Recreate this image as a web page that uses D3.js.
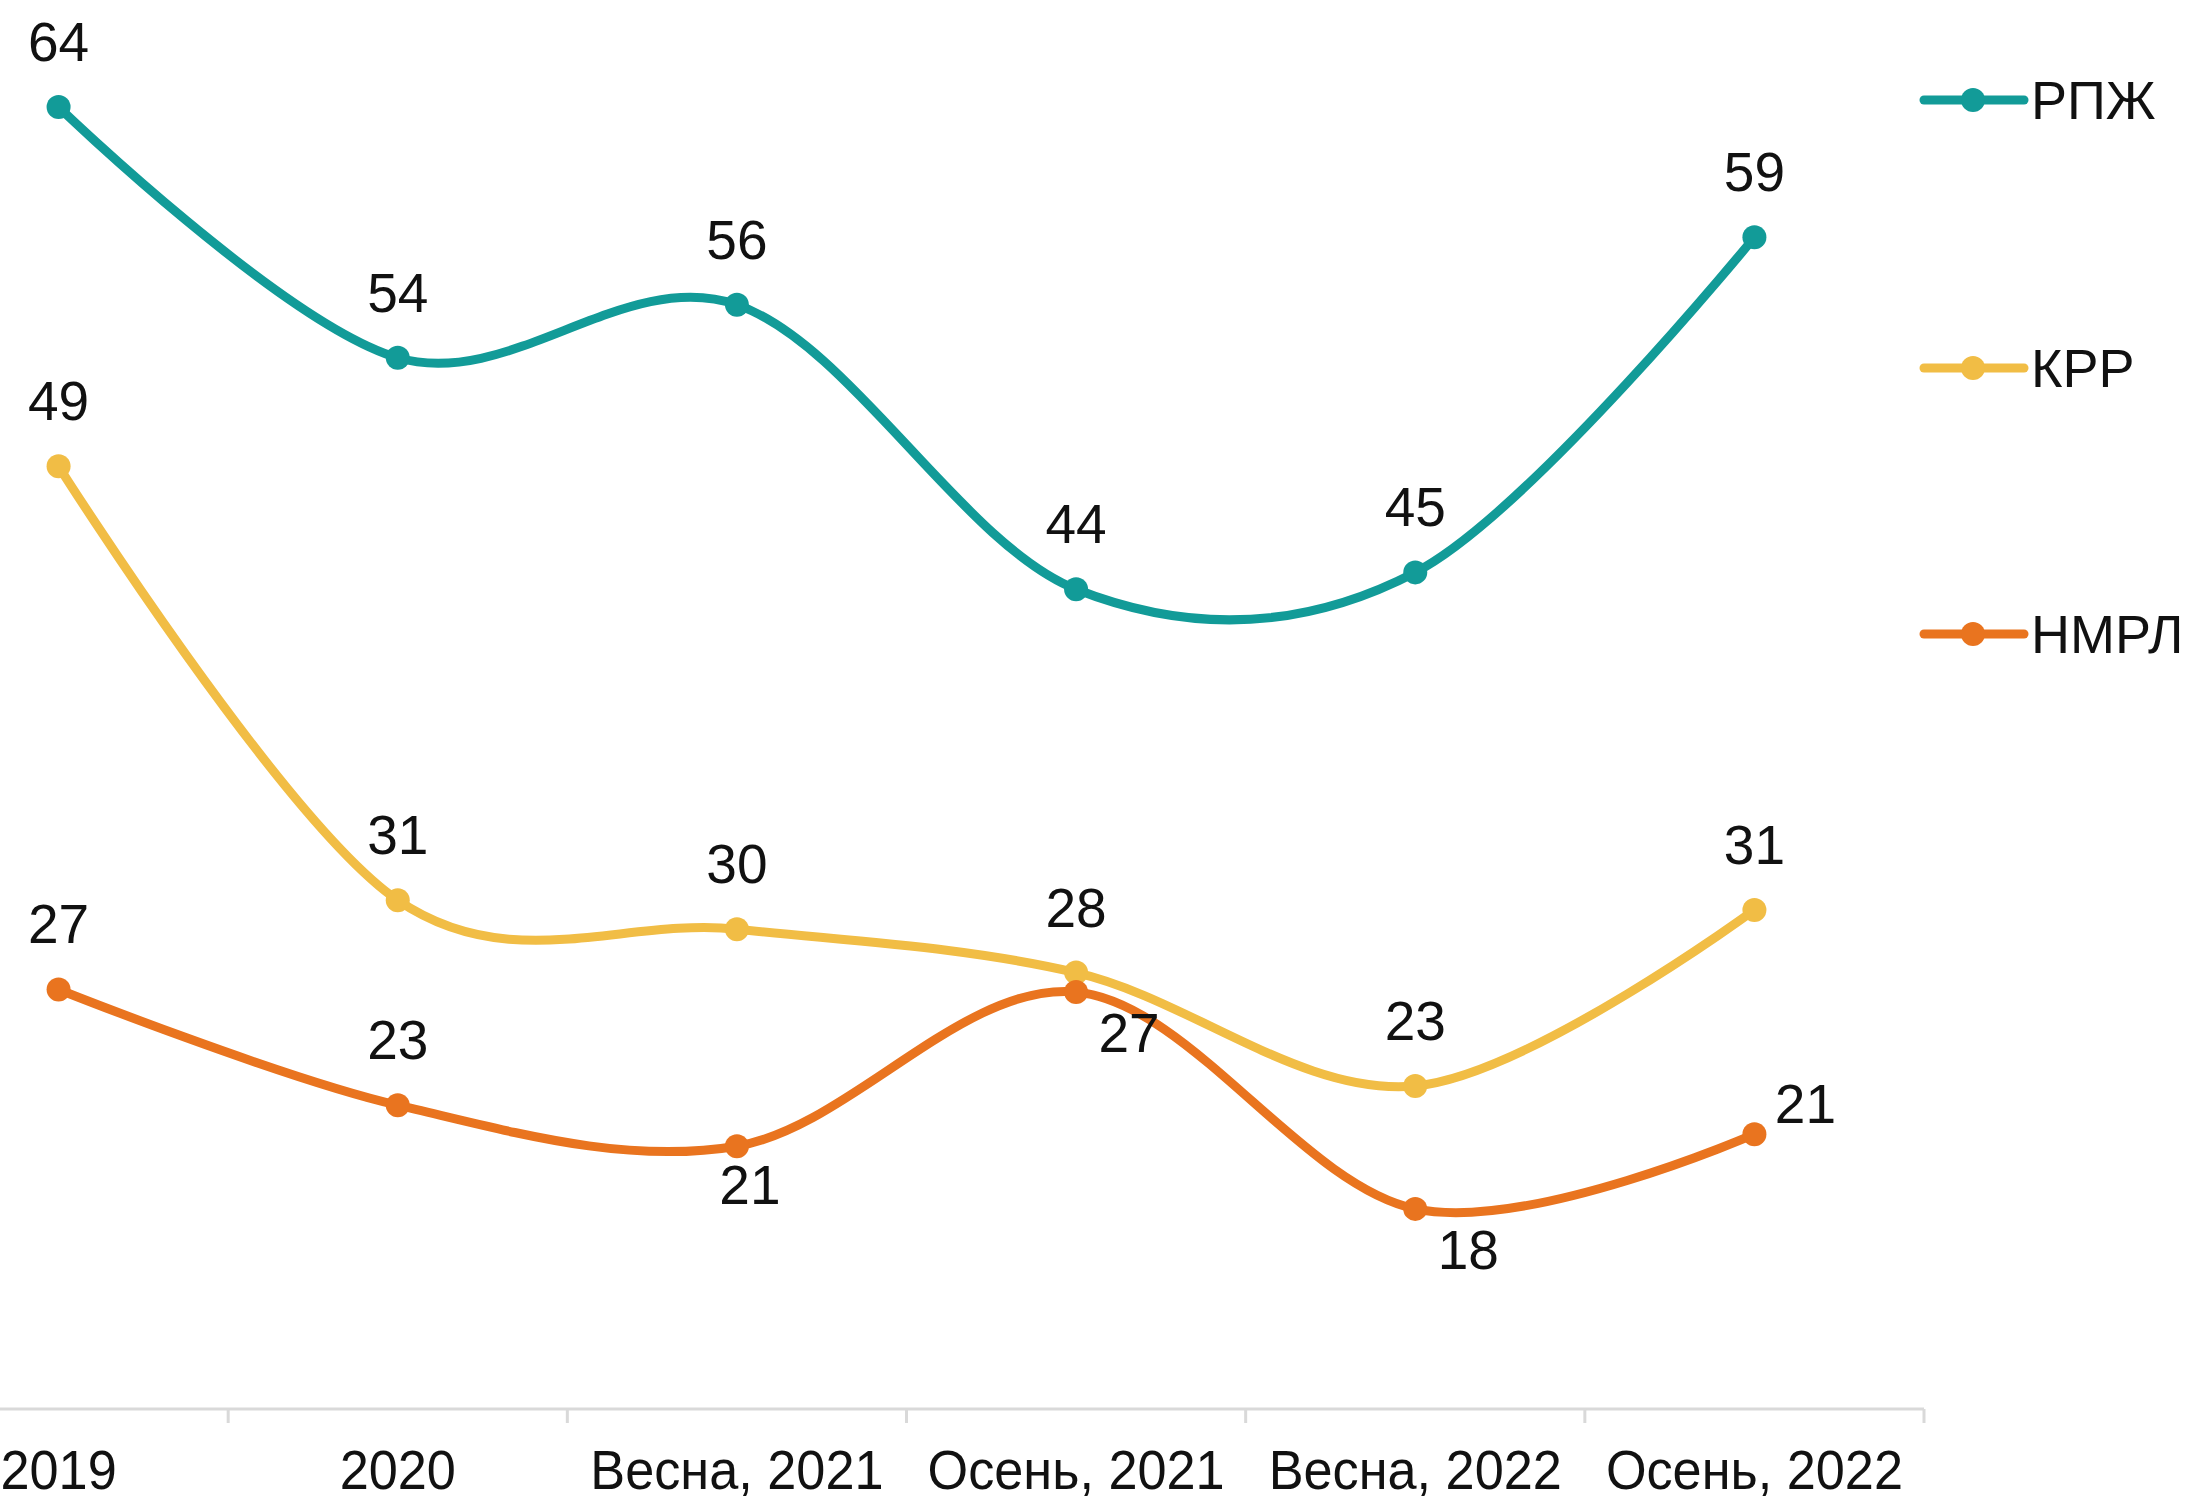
<!DOCTYPE html>
<html lang="ru">
<head>
<meta charset="UTF-8">
<title>Chart</title>
<style>
  body { margin: 0; background: #fff; }
  text { font-family: "Liberation Sans", Arial, sans-serif; fill: #111; }
</style>
</head>
<body>
<script src="https://d3js.org/d3.v7.min.js"></script>
<script>
const categories = ["2019", "2020", "Весна, 2021", "Осень, 2021", "Весна, 2022", "Осень, 2022"];
const seriesNames = ["РПЖ", "КРР", "НМРЛ"];
// values, labels show them rounded
const rpzh = [64.0, 53.6, 55.8, 44.0, 44.7, 58.6];
const krr = [49.1, 31.1, 29.9, 28.1, 23.4, 30.7];
const nmrl = [27.4, 22.6, 20.9, 27.3, 18.3, 21.4];
const colors = ["#129b98", "#f1bd45", "#e9741f"];

// where each data label sits relative to its point
const labelPos = [
  ["a", "a", "a", "a", "a", "a"],
  ["a", "a", "a", "a", "a", "a"],
  ["a", "a", "b", "rb", "rb", "ra"]
];

const w = 2186, h = 1503;
const svg = d3.select("body").append("svg").attr("width", w).attr("height", h);

// plot area is cut off on the left and top, like the source picture
const x = d3.scalePoint().domain(categories).range([-111, 1924]).padding(0.5);
const step = x.step();
const y = d3.scaleLinear().domain([10, 70]).range([1409, 1409 - 60 * 24.11]);
const fmt = d3.format(".0f");

// axis
const axisY = y(10);
svg.append("line")
  .attr("x1", 0).attr("x2", 1924).attr("y1", axisY).attr("y2", axisY)
  .attr("stroke", "#d9d9d9").attr("stroke-width", 3);
categories.forEach(c => {
  const tx = x(c) + step / 2;
  svg.append("line")
    .attr("x1", tx).attr("x2", tx).attr("y1", axisY).attr("y2", axisY + 14)
    .attr("stroke", "#d9d9d9").attr("stroke-width", 3);
  svg.append("text")
    .attr("transform", `translate(${x(c)},1489) scale(0.95,1)`)
    .attr("text-anchor", "middle")
    .attr("font-size", 55)
    .text(c);
});

const all = [rpzh, krr, nmrl];
const line = d3.line()
  .x((d, i) => x(categories[i]))
  .y(d => y(d))
  .curve(d3.curveCatmullRom.alpha(0));

all.forEach((vals, s) => {
  svg.append("path")
    .attr("d", line(vals))
    .attr("fill", "none")
    .attr("stroke", colors[s])
    .attr("stroke-width", 9)
    .attr("stroke-linecap", "round");
  svg.selectAll(null).data(vals).enter().append("circle")
    .attr("cx", (d, i) => x(categories[i]))
    .attr("cy", d => y(d))
    .attr("r", 12)
    .attr("fill", colors[s]);
});

// labels on top of everything
all.forEach((vals, s) => {
  vals.forEach((v, i) => {
    const px = x(categories[i]), py = y(v);
    const p = labelPos[s][i];
    let lx = px, ly = py - 46;
    if (p === "b") { lx = px + 13; ly = py + 58; }
    if (p === "rb") { lx = px + 53; ly = py + 60; }
    if (p === "ra") { lx = px + 51; ly = py - 11; }
    svg.append("text")
      .attr("x", lx).attr("y", ly)
      .attr("text-anchor", "middle")
      .attr("font-size", 55)
      .text(fmt(v));
  });
});

// legend
const legY = [100, 368, 634];
seriesNames.forEach((n, s) => {
  const g = svg.append("g");
  g.append("line")
    .attr("x1", 1924).attr("x2", 2024).attr("y1", legY[s]).attr("y2", legY[s])
    .attr("stroke", colors[s]).attr("stroke-width", 9).attr("stroke-linecap", "round");
  g.append("circle").attr("cx", 1973).attr("cy", legY[s]).attr("r", 12).attr("fill", colors[s]);
  g.append("text")
    .attr("x", 2031).attr("y", legY[s] + 19)
    .attr("font-size", 54)
    .text(n);
});
</script>
</body>
</html>
